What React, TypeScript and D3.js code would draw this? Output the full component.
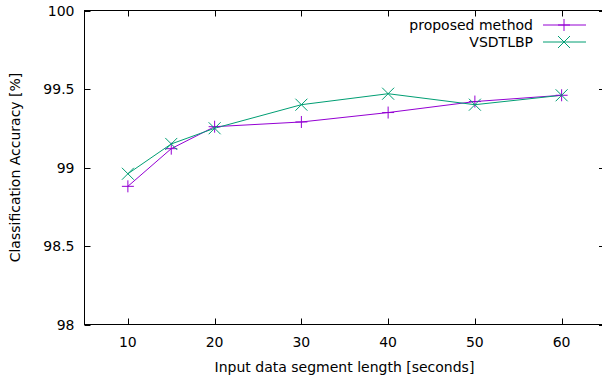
import React from "react";
import * as d3 from "d3";

const segmentLengths = [10, 15, 20, 30, 40, 50, 60];
const proposedMethod = [98.88, 99.12, 99.26, 99.29, 99.35, 99.42, 99.46];
const vsdtlbp = [98.96, 99.15, 99.25, 99.4, 99.47, 99.4, 99.46];
const xTicks = [10, 20, 30, 40, 50, 60];
const yTicks = [98, 98.5, 99, 99.5, 100];

const W = 602;
const H = 380;
const margin = { left: 84.5, top: 10.5, right: -3, bottom: 55.5 };
const font = "'DejaVu Sans', sans-serif";
const purple = "#9400d3";
const green = "#009e73";

const App = () => {
  const x = d3.scaleLinear().domain([5, 65]).range([margin.left, W - margin.right]);
  const y = d3.scaleLinear().domain([98, 100]).range([H - margin.bottom, margin.top]);

  const line = d3
    .line<number>()
    .x((_, i) => x(segmentLengths[i]))
    .y((d) => y(d));

  const plus = (cx: number, cy: number, color: string, key: string) => (
    <g key={key} stroke={color} strokeWidth={1}>
      <line x1={cx - 6} x2={cx + 6} y1={cy} y2={cy} />
      <line x1={cx} x2={cx} y1={cy - 6} y2={cy + 6} />
    </g>
  );
  const cross = (cx: number, cy: number, color: string, key: string) => (
    <g key={key} stroke={color} strokeWidth={1}>
      <line x1={cx - 6} x2={cx + 6} y1={cy - 6} y2={cy + 6} />
      <line x1={cx - 6} x2={cx + 6} y1={cy + 6} y2={cy - 6} />
    </g>
  );

  const x0 = x.range()[0];
  const x1 = x.range()[1];
  const y0 = y.range()[0];
  const y1 = y.range()[1];

  return (
    <svg width={W} height={H} style={{ position: "absolute", left: 0, top: 0 }} fontFamily={font}>
      <rect width={W} height={H} fill="white" />
      {/* ticks */}
      <g stroke="black" strokeWidth={1}>
        {xTicks.map((t) => (
          <g key={"xt" + t}>
            <line x1={Math.round(x(t)) + 0.5} x2={Math.round(x(t)) + 0.5} y1={y0} y2={y0 - 6} />
            <line x1={Math.round(x(t)) + 0.5} x2={Math.round(x(t)) + 0.5} y1={y1} y2={y1 + 6} />
          </g>
        ))}
        {yTicks.map((t) => (
          <g key={"yt" + t}>
            <line x1={x0} x2={x0 + 6} y1={Math.round(y(t)) + 0.5} y2={Math.round(y(t)) + 0.5} />
            <line x1={x1} x2={x1 - 6} y1={Math.round(y(t)) + 0.5} y2={Math.round(y(t)) + 0.5} />
          </g>
        ))}
      </g>
      <rect x={x0} y={y1} width={x1 - x0} height={y0 - y1} fill="none" stroke="black" strokeWidth={1} />

      {/* tick labels */}
      {xTicks.map((t) => (
        <text key={"xl" + t} x={x(t)} y={y0 + 22} textAnchor="middle" fontSize={14} fill="black">
          {t}
        </text>
      ))}
      {yTicks.map((t) => (
        <text key={"yl" + t} x={x0 - 10} y={y(t) + 5} textAnchor="end" fontSize={14} fill="black">
          {t}
        </text>
      ))}

      <text x={(84 + 605) / 2} y={372} textAnchor="middle" fontSize={14} fill="black">
        Input data segment length [seconds]
      </text>
      <text
        transform={`translate(20,${(y0 + y1) / 2}) rotate(-90)`}
        textAnchor="middle"
        fontSize={14}
        fill="black"
      >
        Classification Accuracy [%]
      </text>

      {/* series */}
      <path d={line(proposedMethod) ?? ""} fill="none" stroke={purple} strokeWidth={1} />
      <path d={line(vsdtlbp) ?? ""} fill="none" stroke={green} strokeWidth={1} />
      {proposedMethod.map((v, i) => plus(x(segmentLengths[i]), y(v), purple, "p" + i))}
      {vsdtlbp.map((v, i) => cross(x(segmentLengths[i]), y(v), green, "v" + i))}

      {/* legend */}
      <text x={533} y={30} textAnchor="end" fontSize={14} fill="black">
        proposed method
      </text>
      <line x1={543} x2={586} y1={25} y2={25} stroke={purple} strokeWidth={1} />
      {plus(564, 25, purple, "lp")}
      <text x={533} y={47} textAnchor="end" fontSize={14} fill="black">
        VSDTLBP
      </text>
      <line x1={543} x2={586} y1={42} y2={42} stroke={green} strokeWidth={1} />
      {cross(564, 42, green, "lv")}
    </svg>
  );
};

export default App;
